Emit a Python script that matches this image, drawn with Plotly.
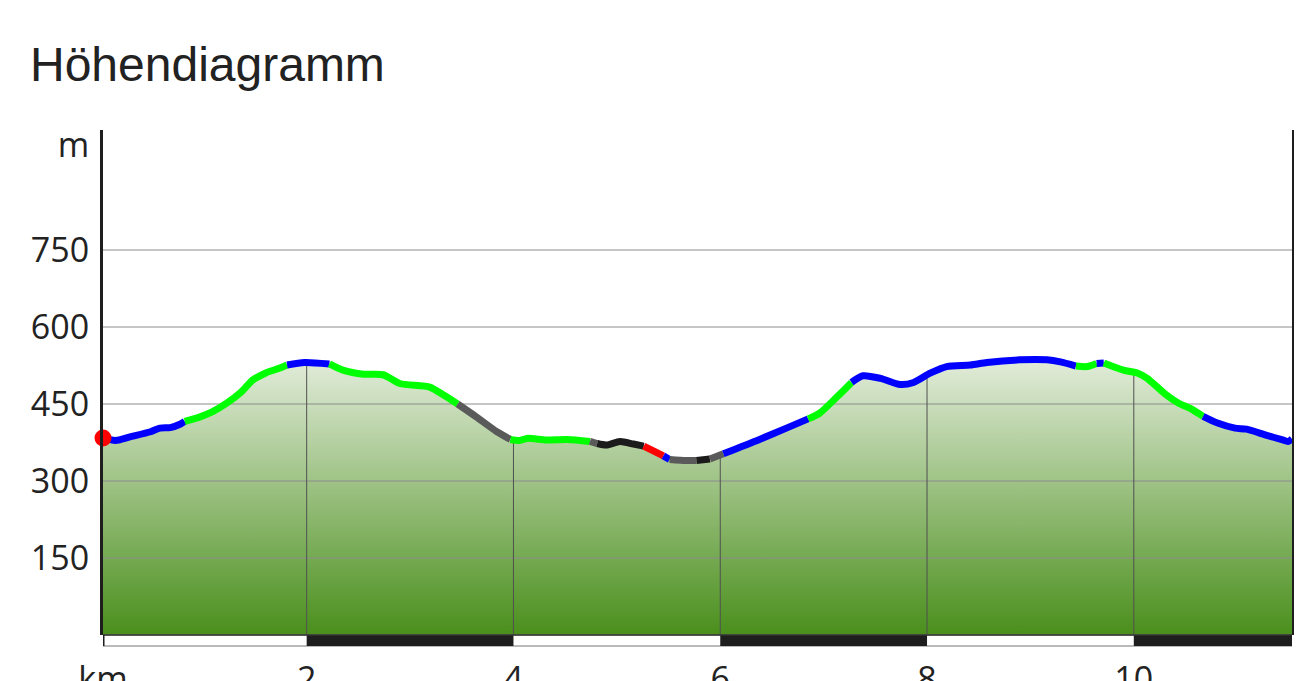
import numpy as np
import plotly.graph_objects as go

title_text = "Höhendiagramm"

# profile: distance (km) and elevation (m)
km = [0.03, 0.15, 0.29, 0.49, 0.58, 0.68, 0.78, 0.82, 0.97, 1.09,
      1.23, 1.36, 1.48, 1.61, 1.74, 1.81, 1.98, 2.22, 2.35, 2.55,
      2.74, 2.90, 3.19, 3.32, 3.46, 3.64, 3.84, 3.97, 4.06, 4.13,
      4.32, 4.52, 4.74, 4.81, 4.90, 5.03, 5.16, 5.26, 5.45, 5.51,
      5.67, 5.77, 5.90, 6.03, 6.38, 6.64, 6.85, 6.96, 7.13, 7.27,
      7.38, 7.55, 7.74, 7.87, 8.03, 8.19, 8.42, 8.58, 8.90, 9.16,
      9.29, 9.44, 9.55, 9.64, 9.71, 9.90, 10.04, 10.13, 10.30, 10.43,
      10.55, 10.67, 10.81, 10.98, 11.09, 11.27, 11.44, 11.49, 11.53]
elev = [384, 379, 386, 396, 403, 404, 411, 416, 425, 435,
        452, 472, 497, 511, 520, 526, 531, 528, 516, 508,
        507, 490, 483, 468, 450, 425, 396, 381, 379, 383,
        380, 381, 377, 373, 370, 377, 372, 368, 349, 342,
        340, 340, 343, 353, 381, 403, 421, 432, 464, 492,
        505, 500, 488, 492, 510, 523, 526, 531, 536, 536,
        532, 524, 523, 529, 530, 516, 510, 500, 470, 452,
        441, 426, 413, 403, 401, 390, 380, 377, 382]

# path surface categories along the route (last point index of each segment)
segment_kinds = ["blue", "green", "blue", "green", "gray", "green", "gray", "black",
                 "red", "blue", "gray", "black", "gray", "blue", "green", "blue",
                 "green", "blue", "green", "blue"]
segment_ends = [7, 15, 17, 24, 27, 32, 33, 37, 38, 39, 41, 42, 43, 46, 49, 61,
                63, 64, 71, 78]

y_ticks = [150, 300, 450, 600, 750]
y_unit = "m"
x_ticks = [2, 4, 6, 8, 10]
x_unit = "km"

X_RANGE = [0.03, 11.53]
Y_RANGE = [0, 983.8]

kind_colors = {"blue": "#0000ff", "green": "#00ff00", "gray": "#5a5a5a",
               "black": "#1b1b1b", "red": "#ff0000"}

# the page body adds an 8 px margin around the figure
W, H = 1286, 673

fig = go.Figure()

# gradient filled area
fig.add_trace(go.Scatter(
    x=km, y=elev, mode="lines", line=dict(width=0, shape="spline", smoothing=0.7),
    fill="tozeroy",
    fillgradient=dict(type="vertical",
                      colorscale=[[0, "rgb(74,143,28)"], [1, "rgb(226,236,218)"]],
                      start=0, stop=max(elev)),
    hoverinfo="skip", showlegend=False))

# horizontal grid lines
gx, gy = [], []
for t in y_ticks:
    gx += [X_RANGE[0], X_RANGE[1], None]
    gy += [t, t, None]
fig.add_trace(go.Scatter(x=gx, y=gy, mode="lines", line=dict(color="#8c8c8c", width=1),
                         hoverinfo="skip", showlegend=False))

# vertical grid lines (only under the profile)
vx, vy = [], []
for t in x_ticks:
    vx += [t, t, None]
    vy += [0, float(np.interp(t, km, elev)), None]
fig.add_trace(go.Scatter(x=vx, y=vy, mode="lines", line=dict(color="#505050", width=1),
                         hoverinfo="skip", showlegend=False))

# coloured profile segments
start = 0
for kind, end in zip(segment_kinds, segment_ends):
    fig.add_trace(go.Scatter(
        x=km[start:end + 1], y=elev[start:end + 1], mode="lines",
        line=dict(color=kind_colors[kind], width=7, shape="spline", smoothing=0.7),
        hoverinfo="skip", showlegend=False))
    start = end

# start marker
fig.add_trace(go.Scatter(x=[km[0]], y=[elev[0]], mode="markers",
                         marker=dict(color="#ff0000", size=17),
                         cliponaxis=False, hoverinfo="skip", showlegend=False))

# km scale bar under the plot
bounds = [X_RANGE[0]] + x_ticks + [X_RANGE[1]]
shapes = [dict(type="rect", xref="x", yref="paper", ysizemode="pixel", yanchor=0,
               x0=X_RANGE[0], x1=X_RANGE[1], y0=-11, y1=0,
               fillcolor="white", line=dict(color="#777", width=1), layer="above")]
for i in range(len(bounds) - 1):
    if i % 2 == 1:
        shapes.append(dict(type="rect", xref="x", yref="paper", ysizemode="pixel", yanchor=0,
                           x0=bounds[i], x1=bounds[i + 1], y0=-11, y1=0,
                           fillcolor="#1e1e1e", line=dict(width=0), layer="above"))
shapes.append(dict(type="line", xref="x", yref="paper", x0=X_RANGE[0], x1=X_RANGE[1],
                   y0=0, y1=0, line=dict(color="#333", width=1.5), layer="above"))
for xe in (X_RANGE[0], X_RANGE[1]):
    shapes.append(dict(type="line", xref="x", yref="paper", ysizemode="pixel", yanchor=0,
                       x0=xe, x1=xe, y0=-11, y1=0, line=dict(color="#1e1e1e", width=3),
                       layer="above"))

tick_font = dict(family="Open Sans", size=34, color="#222222")

fig.update_layout(
    width=W, height=H,
    margin=dict(l=95, r=2, t=122, b=46, pad=0),
    paper_bgcolor="white", plot_bgcolor="white",
    title=dict(text=title_text, x=22 / W, xanchor="left", xref="container",
               y=1 - 56 / H, yanchor="middle", yref="container",
               font=dict(family="Liberation Sans", size=48, color="#222222")),
    xaxis=dict(range=X_RANGE, showgrid=False, zeroline=False, showline=False,
               automargin=False,
               tickvals=[X_RANGE[0]] + x_ticks,
               ticktext=[x_unit] + [str(t) for t in x_ticks],
               ticks="", tickfont=tick_font, ticklabelstandoff=21),
    yaxis=dict(range=Y_RANGE, showgrid=False, zeroline=False, showline=True,
               automargin=False,
               linewidth=3, linecolor="#1e1e1e", mirror=True,
               tickvals=y_ticks + [955], ticktext=[str(t) for t in y_ticks] + [y_unit],
               ticks="", tickfont=tick_font, ticklabelstandoff=4),
    shapes=shapes,
    showlegend=False,
)

fig.write_html("out.html")
